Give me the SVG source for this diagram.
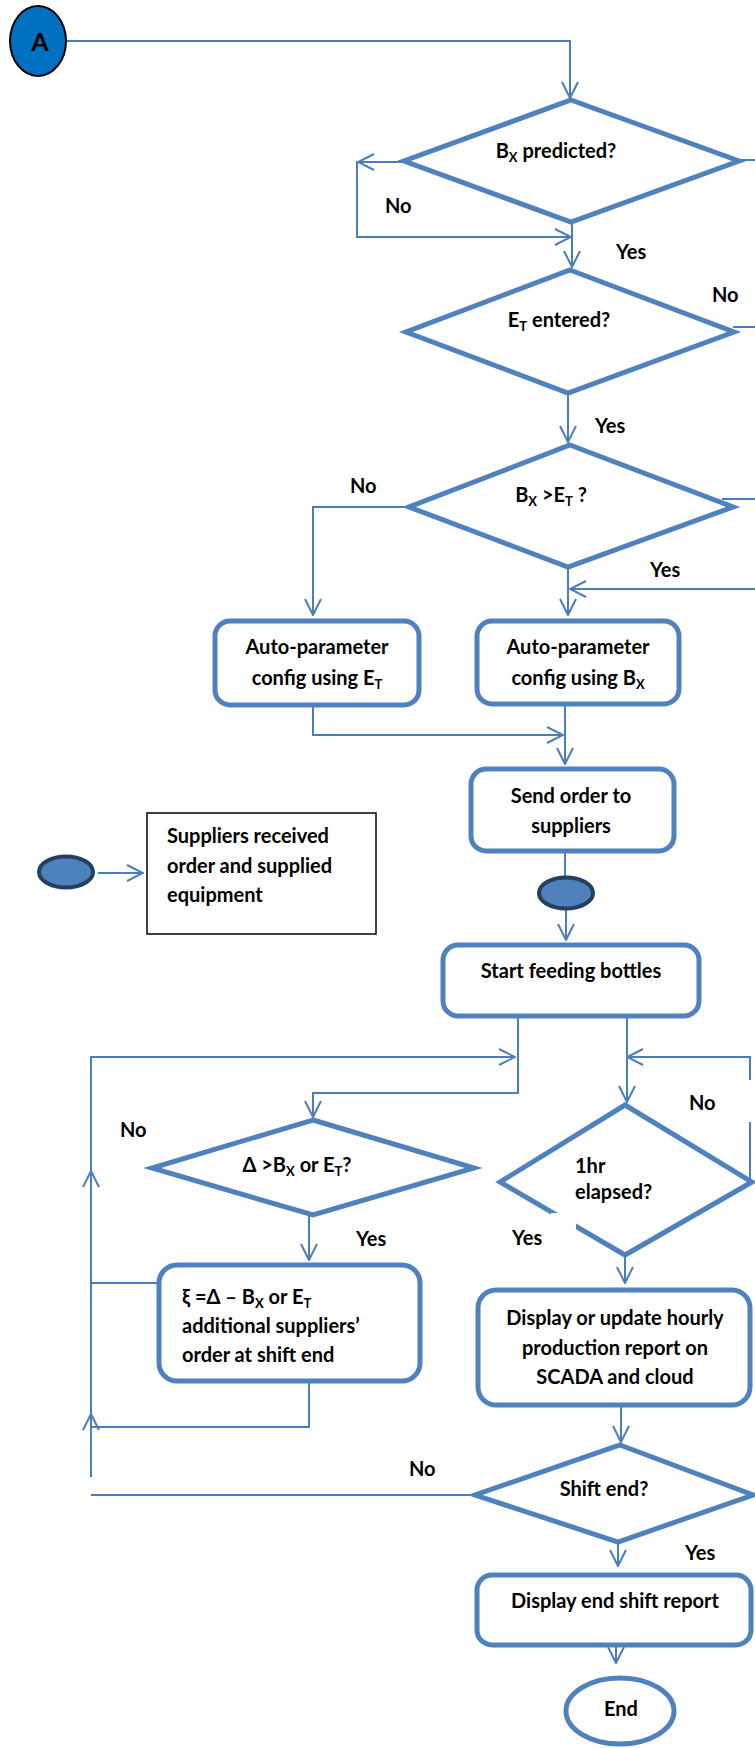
<svg xmlns="http://www.w3.org/2000/svg" width="755" height="1748" viewBox="0 0 755 1748">
  <style>
    .conn { fill: none; stroke: #4A7EBB; stroke-width: 2; }
    .shape { fill: #ffffff; stroke: #4F81BD; stroke-width: 5; stroke-linejoin: miter; }
    .t { font-family: Lato, "Liberation Sans", sans-serif; font-weight: 700; font-size: 20px; fill: #000000; }
    .c { text-anchor: middle; }
    .sub { font-size: 13px; }
    .dot { fill: #4F81BD; stroke: #243F60; stroke-width: 4; }
  </style>
  <defs>
    <marker id="arr" viewBox="0 0 18 18" refX="17" refY="9" markerWidth="18" markerHeight="18" orient="auto" markerUnits="userSpaceOnUse">
      <path d="M1,1 L17,9 L1,17" fill="none" stroke="#4A7EBB" stroke-width="2"/>
    </marker>
  </defs>
  <rect width="755" height="1748" fill="#ffffff"/>

  <!-- connectors -->
  <g id="connectors">
    <path class="conn" d="M66,41 H570 V98" marker-end="url(#arr)"/>
    <path class="conn" d="M404,162 H358" marker-end="url(#arr)"/>
    <path class="conn" d="M357,161 V237 H571" marker-end="url(#arr)"/>
    <path class="conn" d="M572,222 V267" marker-end="url(#arr)"/>
    <path class="conn" d="M739,160 H755"/>
    <path class="conn" d="M733,327 H755"/>
    <path class="conn" d="M568,393 V442" marker-end="url(#arr)"/>
    <path class="conn" d="M409,507 H313 V615" marker-end="url(#arr)"/>
    <path class="conn" d="M722,499 H755"/>
    <path class="conn" d="M568,567 V615" marker-end="url(#arr)"/>
    <path class="conn" d="M755,589 H570" marker-end="url(#arr)"/>
    <path class="conn" d="M313,707 V735 H563" marker-end="url(#arr)"/>
    <path class="conn" d="M565,706 V764" marker-end="url(#arr)"/>
    <path class="conn" d="M565,853 V877"/>
    <path class="conn" d="M566,910 V940" marker-end="url(#arr)"/>
    <path class="conn" d="M98,873 H143" marker-end="url(#arr)"/>
    <path class="conn" d="M518,1018 V1093 H313 V1117" marker-end="url(#arr)"/>
    <path class="conn" d="M91,1171 V1057 H515" marker-end="url(#arr)"/>
    <path class="conn" d="M627,1018 V1102" marker-end="url(#arr)"/>
    <path class="conn" d="M750,1182 V1122"/>
    <path class="conn" d="M750,1080 V1057 H627" marker-end="url(#arr)"/>
    <path class="conn" d="M309,1215 V1260" marker-end="url(#arr)"/>
    <path class="conn" d="M475,1495 H91"/>
    <path class="conn" d="M91,1477 V1414" marker-end="url(#arr)"/>
    <path class="conn" d="M91,1414 V1171" marker-end="url(#arr)"/>
    <path class="conn" d="M157,1283 H91"/>
    <path class="conn" d="M309,1383 V1427 H91"/>
    <path class="conn" d="M625,1255 V1283" marker-end="url(#arr)"/>
    <path class="conn" d="M621,1407 V1442" marker-end="url(#arr)"/>
    <path class="conn" d="M618,1542 V1566" marker-end="url(#arr)"/>
    <path class="conn" d="M616,1627 V1663" marker-end="url(#arr)"/>
  </g>

  <!-- connector labels -->
  <g id="labels" class="t">
    <text x="385" y="213">No</text>
    <text x="616" y="259">Yes</text>
    <text x="712" y="302">No</text>
    <text x="595" y="433">Yes</text>
    <text x="350" y="493">No</text>
    <text x="650" y="577">Yes</text>
    <text x="689" y="1110">No</text>
    <text x="120" y="1137">No</text>
    <text x="356" y="1246">Yes</text>
    <text x="409" y="1476">No</text>
    <text x="685" y="1560">Yes</text>
  </g>

  <!-- start connector A -->
  <g id="node-a">
    <ellipse cx="38" cy="41" rx="28" ry="35" fill="#0070C0" stroke="#000000" stroke-width="2"/>
    <text class="t c" x="40" y="51" style="font-size:25px">A</text>
  </g>

  <g id="dec-bx-predicted">
    <polygon class="shape" points="571,100 739,161 571,222 404,161"/>
    <text class="t c" x="556" y="158">B<tspan class="sub" dy="4">X</tspan><tspan dy="-4"> predicted?</tspan></text>
  </g>

  <g id="dec-et-entered">
    <polygon class="shape" points="570,270 734,332 568,393 406,332"/>
    <text class="t c" x="559" y="327">E<tspan class="sub" dy="4">T</tspan><tspan dy="-4"> entered?</tspan></text>
  </g>

  <g id="dec-bx-gt-et">
    <polygon class="shape" points="570,445 733,507 568,567 409,507"/>
    <text class="t c" x="551" y="502">B<tspan class="sub" dy="4">X</tspan><tspan dy="-4"> &gt;E</tspan><tspan class="sub" dy="4">T</tspan><tspan dy="-4"> ?</tspan></text>
  </g>

  <g id="proc-config-et">
    <rect class="shape" x="215" y="621" width="204" height="84" rx="15"/>
    <text class="t c" x="317" y="654">Auto-parameter</text>
    <text class="t c" x="317" y="685">config using E<tspan class="sub" dy="4">T</tspan></text>
  </g>

  <g id="proc-config-bx">
    <rect class="shape" x="477" y="621" width="202" height="83" rx="15"/>
    <text class="t c" x="578" y="654">Auto-parameter</text>
    <text class="t c" x="578" y="685">config using B<tspan class="sub" dy="4">X</tspan></text>
  </g>

  <g id="proc-send-order">
    <rect class="shape" x="471" y="769" width="203" height="82" rx="15"/>
    <text class="t c" x="571" y="803">Send order to</text>
    <text class="t c" x="571" y="833">suppliers</text>
  </g>

  <g id="ev-suppliers">
    <ellipse class="dot" cx="66" cy="872" rx="27" ry="15.5"/>
    <rect x="147" y="813" width="229" height="121" fill="#ffffff" stroke="#000000" stroke-width="1.5"/>
    <text class="t" x="167" y="843">Suppliers received</text>
    <text class="t" x="167" y="873">order and supplied</text>
    <text class="t" x="167" y="902">equipment</text>
  </g>

  <g id="ev-supplied">
    <ellipse class="dot" cx="566" cy="893" rx="27" ry="15.5"/>
  </g>

  <g id="proc-start-feeding">
    <rect class="shape" x="443" y="945" width="256" height="71" rx="15"/>
    <text class="t c" x="571" y="978">Start feeding bottles</text>
  </g>

  <g id="dec-delta">
    <polygon class="shape" points="313,1120 474,1168 313,1215 152,1168"/>
    <text class="t c" x="297" y="1172">Δ &gt;B<tspan class="sub" dy="4">X</tspan><tspan dy="-4"> or E</tspan><tspan class="sub" dy="4">T</tspan><tspan dy="-4">?</tspan></text>
  </g>

  <g id="proc-additional-order">
    <rect class="shape" x="159" y="1265" width="261" height="116" rx="18"/>
    <text class="t" x="182" y="1304">ξ =Δ – B<tspan class="sub" dy="4">X</tspan><tspan dy="-4"> or E</tspan><tspan class="sub" dy="4">T</tspan></text>
    <text class="t" x="182" y="1333">additional suppliers’</text>
    <text class="t" x="182" y="1362">order at shift end</text>
  </g>

  <g id="dec-hour">
    <polygon class="shape" points="625,1105 752,1182 625,1255 500,1182"/>
    <rect x="551" y="1213" width="25" height="24" fill="#ffffff"/>
    <text class="t" x="575" y="1173">1hr</text>
    <text class="t" x="575" y="1199">elapsed?</text>
    <text class="t" x="512" y="1245">Yes</text>
  </g>

  <g id="proc-hourly-report">
    <rect class="shape" x="478" y="1290" width="272" height="115" rx="18"/>
    <text class="t c" x="615" y="1325">Display or update hourly</text>
    <text class="t c" x="615" y="1355">production report on</text>
    <text class="t c" x="615" y="1384">SCADA and cloud</text>
  </g>

  <g id="dec-shift-end">
    <polygon class="shape" points="620,1445 753,1495 618,1542 475,1495"/>
    <text class="t c" x="604" y="1496">Shift end?</text>
  </g>

  <g id="proc-end-report">
    <rect class="shape" x="477" y="1575" width="274" height="70" rx="15"/>
    <text class="t c" x="615" y="1608">Display end shift report</text>
  </g>

  <g id="term-end">
    <ellipse class="shape" cx="620" cy="1711" rx="54" ry="33"/>
    <text class="t c" x="621" y="1716">End</text>
  </g>
</svg>
